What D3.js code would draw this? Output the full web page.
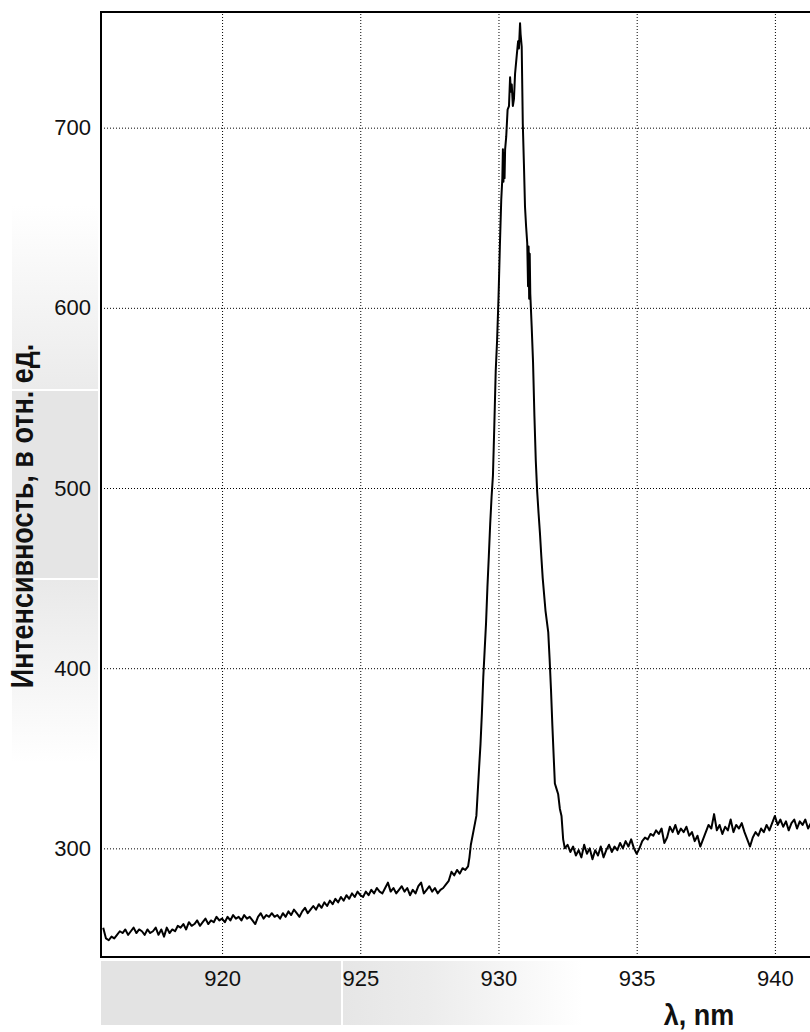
<!DOCTYPE html>
<html>
<head>
<meta charset="utf-8">
<script src="https://cdn.jsdelivr.net/npm/d3@7"></script>
<style>
  html, body { margin: 0; padding: 0; background: #fff; }
  svg { display: block; font-family: "Liberation Sans", Arial, sans-serif; }
</style>
</head>
<body>
<svg id="chart" width="810" height="1032"></svg>
<script>
// Emission spectrum: intensity (relative units) versus wavelength (nm)

// Slowly rising background before the line, 0.1 nm sampling
const leftWing = [
  [915.7,256],[915.8,250],[915.9,249],[916.0,251],[916.1,250],[916.2,252],[916.3,254],[916.4,253],[916.5,255],[916.6,252],
  [916.7,254],[916.8,256],[916.9,253],[917.0,255],[917.1,254],[917.2,252],[917.3,255],[917.4,253],[917.5,254],[917.6,256],
  [917.7,252],[917.8,255],[917.9,251],[918.0,256],[918.1,253],[918.2,255],[918.3,254],[918.4,257],[918.5,256],[918.6,258],
  [918.7,255],[918.8,259],[918.9,257],[919.0,258],[919.1,260],[919.2,257],[919.3,259],[919.4,261],[919.5,258],[919.6,260],
  [919.7,259],[919.8,262],[919.9,260],[920.0,261],[920.1,259],[920.2,262],[920.3,260],[920.4,263],[920.5,261],[920.6,262],
  [920.7,260],[920.8,263],[920.9,261],[921.0,262],[921.1,260],[921.2,258],[921.3,262],[921.4,264],[921.5,261],[921.6,263],
  [921.7,262],[921.8,264],[921.9,262],[922.0,263],[922.1,261],[922.2,264],[922.3,262],[922.4,265],[922.5,263],[922.6,266],
  [922.7,264],[922.8,262],[922.9,265],[923.0,267],[923.1,264],[923.2,266],[923.3,268],[923.4,266],[923.5,269],[923.6,267],
  [923.7,270],[923.8,268],[923.9,271],[924.0,269],[924.1,272],[924.2,270],[924.3,273],[924.4,271],[924.5,274],[924.6,272],
  [924.7,275],[924.8,273],[924.9,276],[925.0,274],[925.1,273],[925.2,276],[925.3,274],[925.4,277],[925.5,275],[925.6,278],
  [925.7,276],[925.8,275],[925.9,278],[926.0,281],[926.1,276],[926.2,278],[926.3,275],[926.4,277],[926.5,279],[926.6,276],
  [926.7,278],[926.8,274],[926.9,277],[927.0,275],[927.1,279],[927.2,281],[927.3,275],[927.4,277],[927.5,279],[927.6,276],
  [927.7,278],[927.8,275],[927.9,277],[928.0,278],[928.1,280],[928.2,282],[928.3,287],[928.4,285],[928.5,288],[928.6,286],
  [928.7,289],[928.8,288],[928.9,290]
];

// The emission line itself
const peak = [
  [928.95,295],[929.00,302],[929.10,310],[929.20,318],[929.30,345],[929.35,358],[929.40,375],[929.45,395],[929.50,410],
  [929.55,425],[929.60,445],[929.65,462],[929.70,480],[929.75,495],[929.80,507],[929.85,535],[929.90,565],[929.95,582],
  [930.00,605],[930.05,634],[930.10,660],[930.14,672],[930.16,688],[930.18,670],[930.20,686],[930.22,672],[930.24,688],
  [930.28,695],[930.33,710],[930.38,712],[930.42,728],[930.45,720],[930.48,724],[930.52,712],[930.56,716],[930.60,730],
  [930.66,740],[930.71,748],[930.74,744],[930.78,758],[930.80,752],[930.84,745],[930.88,702],[930.92,680],[930.96,656],
  [931.00,645],[931.04,636],[931.07,612],[931.09,634],[931.11,605],[931.13,630],[931.15,608],[931.20,590],[931.25,570],
  [931.30,540],[931.35,515],[931.40,498],[931.45,486],[931.50,475],[931.55,462],[931.60,450],[931.70,432],[931.80,420],
  [931.85,405],[931.90,388],[931.95,368],[932.00,350],[932.04,336],[932.10,333],[932.16,330],[932.22,322],[932.28,318],
  [932.34,305]
];

// Background after the line, 0.1 nm sampling
const rightWing = [
  [932.4,300],[932.5,302],[932.6,298],[932.7,301],[932.8,296],[932.9,299],[933.0,295],[933.1,302],[933.2,297],[933.3,300],
  [933.4,294],[933.5,299],[933.6,296],[933.7,301],[933.8,295],[933.9,299],[934.0,302],[934.1,298],[934.2,301],[934.3,299],
  [934.4,303],[934.5,300],[934.6,304],[934.7,301],[934.8,305],[934.9,300],[935.0,297],[935.1,300],[935.2,304],[935.3,306],
  [935.4,305],[935.5,308],[935.6,307],[935.7,310],[935.8,308],[935.9,311],[936.0,303],[936.1,306],[936.2,312],[936.3,309],
  [936.4,313],[936.5,308],[936.6,311],[936.7,309],[936.8,312],[936.9,307],[937.0,309],[937.1,304],[937.2,307],[937.3,301],
  [937.4,305],[937.5,309],[937.6,313],[937.7,311],[937.8,319],[937.9,310],[938.0,313],[938.1,308],[938.2,312],[938.3,310],
  [938.4,316],[938.5,309],[938.6,313],[938.7,311],[938.8,314],[938.9,309],[939.0,305],[939.1,301],[939.2,306],[939.3,309],
  [939.4,307],[939.5,311],[939.6,309],[939.7,313],[939.8,310],[939.9,314],[940.0,318],[940.1,313],[940.2,316],[940.3,312],
  [940.4,315],[940.5,310],[940.6,314],[940.7,316],[940.8,311],[940.9,315],[941.0,313],[941.1,316],[941.2,311],[941.3,314]
];

const xTicks = [920, 925, 930, 935, 940];
const yTicks = [300, 400, 500, 600, 700];
const xTitle = "λ, nm";
const yTitle = "Интенсивность, в отн. ед.";

const spectrum = leftWing.concat(peak, rightWing);

const svg = d3.select("#chart");
const W = 810;
const plot = { left: 101, top: 12, right: 810, bottom: 957 };

const x = d3.scaleLinear().domain([915.62, 941.27]).range([plot.left, plot.right]);
const y = d3.scaleLinear().domain([239.7, 764.2]).range([plot.bottom, plot.top]);

// ---- shaded label panels ----
const defs = svg.append("defs");
function vGrad(id, stops) {
  const g = defs.append("linearGradient").attr("id", id).attr("x1", 0).attr("y1", 0).attr("x2", 0).attr("y2", 1);
  stops.forEach(s => g.append("stop").attr("offset", s[0]).attr("stop-color", s[1]));
}
function hGrad(id, stops) {
  const g = defs.append("linearGradient").attr("id", id).attr("x1", 0).attr("y1", 0).attr("x2", 1).attr("y2", 0);
  stops.forEach(s => g.append("stop").attr("offset", s[0]).attr("stop-color", s[1]));
}
vGrad("panelTop", [[0, "#ffffff"], [1, "#ebebeb"]]);
vGrad("panelBottom", [[0, "#e9e9e9"], [1, "#ffffff"]]);
hGrad("panelRight", [[0, "#e6e6e6"], [0.35, "#ececec"], [1, "#ffffff"]]);

const panels = svg.append("g");
panels.append("rect").attr("x", 12).attr("y", 205).attr("width", 86).attr("height", 184).attr("fill", "url(#panelTop)");
panels.append("rect").attr("x", 12).attr("y", 391).attr("width", 86).attr("height", 187).attr("fill", "#e5e5e5");
panels.append("rect").attr("x", 12).attr("y", 580).attr("width", 86).attr("height", 183).attr("fill", "url(#panelBottom)");
panels.append("rect").attr("x", 101).attr("y", 961).attr("width", 240).attr("height", 64).attr("fill", "#e3e3e3");
panels.append("rect").attr("x", 343).attr("y", 961).attr("width", 240).attr("height", 64).attr("fill", "url(#panelRight)");

// ---- plot area ----
svg.append("rect")
  .attr("x", plot.left).attr("y", plot.top)
  .attr("width", plot.right - plot.left).attr("height", plot.bottom - plot.top)
  .attr("fill", "#fff");

defs.append("clipPath").attr("id", "plotClip")
  .append("rect")
  .attr("x", plot.left).attr("y", plot.top)
  .attr("width", plot.right - plot.left).attr("height", plot.bottom - plot.top);

// grid + tick labels via axes
const xAxis = d3.axisBottom(x).tickValues(xTicks).tickFormat(d3.format("d"))
  .tickSizeInner(-(plot.bottom - plot.top)).tickSizeOuter(0).tickPadding(13);
const yAxis = d3.axisLeft(y).tickValues(yTicks).tickFormat(d3.format("d"))
  .tickSizeInner(-(plot.right - plot.left)).tickSizeOuter(0).tickPadding(10);

const gx = svg.append("g").attr("transform", `translate(0,${plot.bottom})`).call(xAxis);
const gy = svg.append("g").attr("transform", `translate(${plot.left},0)`).call(yAxis);

[gx, gy].forEach(g => {
  g.select(".domain").remove();
  g.selectAll(".tick line")
    .attr("stroke", "#000").attr("stroke-width", 1).attr("stroke-dasharray", "1,2");
  g.selectAll(".tick text")
    .attr("fill", "#111")
    .style("font-family", "'Liberation Sans', Arial, sans-serif")
    .style("font-size", "22px");
});

// spectrum trace
const line = d3.line().x(d => x(d[0])).y(d => y(d[1]));
svg.append("path")
  .datum(spectrum)
  .attr("clip-path", "url(#plotClip)")
  .attr("fill", "none")
  .attr("stroke", "#000")
  .attr("stroke-width", 2)
  .attr("stroke-linejoin", "round")
  .attr("d", line);

// frame: left, top and bottom edges
svg.append("path")
  .attr("fill", "none").attr("stroke", "#000").attr("stroke-width", 2)
  .attr("d", `M${W},${plot.top}H${plot.left}V${plot.bottom}H${W}`);

// axis titles (glyphs slightly stretched in height)
svg.append("text")
  .attr("transform", "translate(699,1025) scale(1,1.12)")
  .attr("text-anchor", "middle")
  .style("font-size", "27px").style("font-weight", "bold")
  .attr("fill", "#111")
  .text(xTitle);

svg.append("text")
  .attr("transform", "translate(33,516) rotate(-90) scale(1,1.15)")
  .attr("text-anchor", "middle")
  .style("font-size", "27px").style("font-weight", "bold")
  .attr("fill", "#111")
  .text(yTitle);
</script>
</body>
</html>
